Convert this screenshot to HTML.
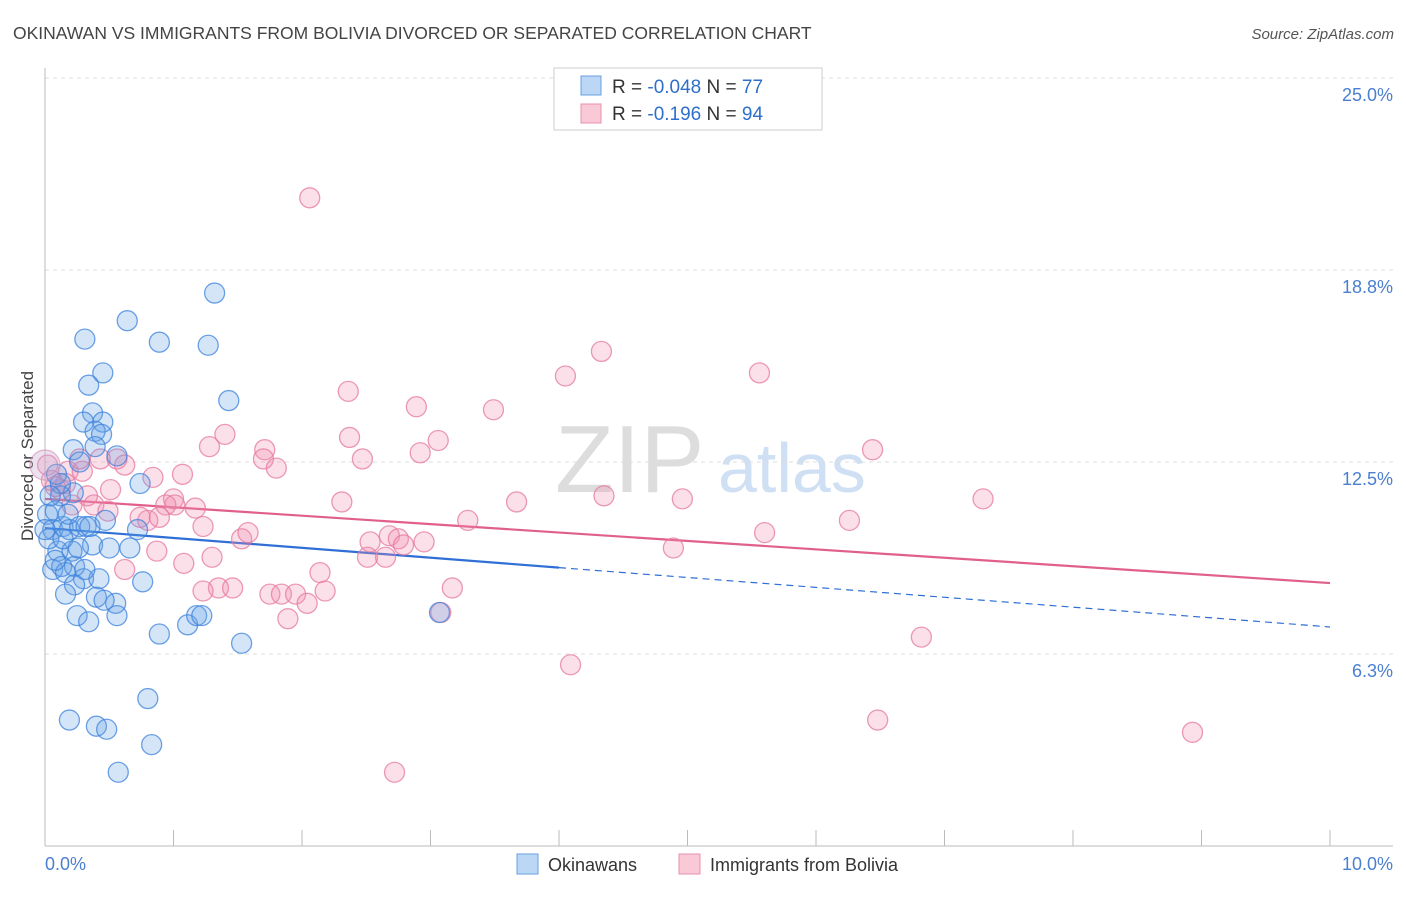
<!DOCTYPE html>
<html><head><meta charset="utf-8"><style>
body{margin:0;background:#fff;font-family:"Liberation Sans",sans-serif;}
svg text{font-family:"Liberation Sans",sans-serif;}
</style></head><body>
<svg id="chart" width="1406" height="892" xmlns="http://www.w3.org/2000/svg">
<text x="13" y="39" font-size="17.5" fill="#444">OKINAWAN VS IMMIGRANTS FROM BOLIVIA DIVORCED OR SEPARATED CORRELATION CHART</text>
<text x="1394" y="39" font-size="15" fill="#555" font-style="italic" text-anchor="end">Source: ZipAtlas.com</text>
<text transform="translate(33,456) rotate(-90)" font-size="17" fill="#444" text-anchor="middle">Divorced or Separated</text>
<g>
<text x="555" y="492" font-size="96" fill="#ddd" font-family="Liberation Serif, serif">ZIP</text>
<text x="718" y="492" font-size="70" fill="#cfe0f4">atlas</text>
</g>
<g id="grid"></g>
<g id="axes"></g>
<g id="trends"></g>
<g id="points"></g>
<g>
<rect x="554" y="68" width="268" height="62" fill="#fff" stroke="#ccc"/>
<rect x="581" y="76" width="20" height="19" fill="#bcd6f5" stroke="#6aa0e0"/>
<rect x="581" y="104" width="20" height="19" fill="#f9c9d8" stroke="#e890ad"/>
<text x="612" y="93" font-size="19" fill="#333">R = <tspan fill="#2f6fcc">-0.048</tspan>    N = <tspan fill="#2f6fcc">77</tspan></text>
<text x="612" y="120" font-size="19" fill="#333">R =   <tspan fill="#2f6fcc">-0.196</tspan>    N = <tspan fill="#2f6fcc">94</tspan></text>
</g>
<g>
<rect x="517" y="854" width="21" height="20" fill="#bcd6f5" stroke="#6aa0e0"/>
<text x="548" y="871" font-size="18" fill="#333">Okinawans</text>
<rect x="679" y="854" width="21" height="20" fill="#f9c9d8" stroke="#e890ad"/>
<text x="710" y="871" font-size="18" fill="#333">Immigrants from Bolivia</text>
</g>
</svg>
<script>
const blueX=[.31,.64,.89,1.27,1.32,.45,.34,1.43,.37,.30,.45,.39,.44,.22,.39,.56,.27,.09,.22,.12,.74,.12,.02,.06,.14,.19,.27,.32,.47,.72,.10,.21,.37,.50,.06,.13,.23,.30,.16,.42,.76,.23,.40,.55,.25,.34,.56,.89,1.11,1.18,1.22,1.53,.80,.19,.40,.48,.83,.57,3.07,.03,.08,0,.14,.31,.35,.66,.08,.04,.18,.26,.16,.46];
const blueY=[16.5,17.1,16.4,16.3,18.0,15.4,15.0,14.5,14.1,13.8,13.8,13.5,13.4,12.9,13.0,12.7,12.5,12.1,11.5,11.4,11.8,11.8,10.8,10.3,10.4,10.3,10.4,10.4,10.6,10.3,9.6,9.6,9.8,9.7,9.0,9.1,9.1,8.7,8.9,8.7,8.6,8.5,8.1,7.9,7.5,7.3,7.5,6.9,7.2,7.5,7.5,6.6,4.8,4.1,3.9,3.8,3.3,2.4,7.6,10.0,9.3,10.3,10.0,9.0,10.4,9.7,10.9,11.4,10.8,9.7,8.2,8.0];
const pinkX=[2.06,4.33,4.05,5.56,2.36,2.89,3.49,2.37,3.06,1.40,1.28,1.71,2.92,2.47,6.44,1.70,1.80,.56,.62,.84,1.07,.18,.29,.12,.33,.51,.38,1.0,1.01,.94,1.17,2.31,3.67,4.35,4.96,7.30,6.26,3.29,.80,.74,1.23,1.53,1.58,2.53,2.68,2.75,2.95,2.79,5.60,4.89,.87,1.30,1.08,2.51,2.65,.62,2.14,1.35,1.46,1.23,1.75,1.84,1.95,2.18,2.04,1.89,3.08,3.17,6.82,4.09,6.48,2.72,8.93,.02,.05,.16,.21,.27,.43,.49,.08,.89];
const pinkY=[21.1,16.1,15.3,15.4,14.8,14.3,14.2,13.3,13.2,13.4,13.0,12.9,12.8,12.6,12.9,12.6,12.3,12.6,12.4,12.0,12.1,12.2,12.2,11.6,11.4,11.6,11.1,11.3,11.1,11.1,11.0,11.2,11.2,11.4,11.3,11.3,10.6,10.6,10.6,10.7,10.4,10.0,10.2,9.9,10.1,10.0,9.9,9.8,10.2,9.7,9.6,9.4,9.2,9.4,9.4,9.0,8.9,8.4,8.4,8.3,8.2,8.2,8.2,8.3,7.9,7.4,7.6,8.4,6.8,5.9,4.1,2.4,3.7,12.4,11.9,11.8,11.1,12.6,12.6,10.9,11.7,10.7];
const blueTrend=[10.35,7.13];
const pinkTrend=[11.3,8.56];
const yTicks=[6.25,12.5,18.75,25];
const yTickLabels=["6.3%","12.5%","18.8%","25.0%"];
const xTicks=[0,1,2,3,4,5,6,7,8,9,10];
const NS="http://www.w3.org/2000/svg";
const X0=45,X1=1330,Y0=846,PY=30.72;
function sx(v){return X0+(X1-X0)*v/10;}
function sy(v){return Y0-v*PY;}
function mk(tag,attrs,parent){const e=document.createElementNS(NS,tag);for(const k in attrs)e.setAttribute(k,attrs[k]);document.getElementById(parent).appendChild(e);return e;}
yTicks.forEach((t,i)=>{
 const l=mk('line',{x1:45,x2:1393,y1:sy(t),y2:sy(t),stroke:'#ddd','stroke-dasharray':'4,4'},'grid');
 
 
 const tx=mk('text',{x:1393,y:sy(t)+23,'font-size':18,fill:'#4a7fd0','text-anchor':'end'},'grid');
 tx.textContent=yTickLabels[i];
 
 
});
const ax=mk('line',{x1:45,x2:45,y1:68,y2:846,stroke:'#bbb'},'axes');


const bx=mk('line',{x1:45,x2:1393,y1:846,y2:846,stroke:'#bbb'},'axes');


xTicks.forEach(t=>{
 const l=mk('line',{x1:sx(t),x2:sx(t),y1:830,y2:846,stroke:'#bbb'},'axes');
 
 
});
const xl0=mk('text',{x:45,y:870,'font-size':18,fill:'#4a7fd0'},'axes');xl0.textContent='0.0%';


const xl1=mk('text',{x:1393,y:870,'font-size':18,fill:'#4a7fd0','text-anchor':'end'},'axes');xl1.textContent='10.0%';


function pt(x,y,fill,stroke,r){
 const c=mk('circle',{cx:sx(x),cy:sy(y),r:r,fill:fill,stroke:stroke,'stroke-width':1.3},'points');
 return c;
}
pinkX.forEach((x,i)=>{const c=pt(x,pinkY[i],'rgba(240,140,175,0.28)','rgba(230,120,160,0.75)',10);
 
 });
blueX.forEach((x,i)=>{const c=pt(x,blueY[i],'rgba(100,160,230,0.28)','rgba(60,130,220,0.75)',10);
 
 });
const big=pt(0,12.4,'rgba(200,170,210,0.35)','rgba(210,140,180,0.6)',15);


function tv(tr,x){return tr[0]+(tr[1]-tr[0])*x/10;}
const pl=mk('line',{x1:sx(0),y1:sy(tv(pinkTrend,0)),x2:sx(10),y2:sy(tv(pinkTrend,10)),stroke:'#e0608a','stroke-width':2.2},'trends');


const bl=mk('line',{x1:sx(0),y1:sy(tv(blueTrend,0)),x2:sx(4),y2:sy(tv(blueTrend,4)),stroke:'#2f6fd6','stroke-width':2.2},'trends');


const bd=mk('line',{x1:sx(4),y1:sy(tv(blueTrend,4)),x2:sx(10),y2:sy(tv(blueTrend,10)),stroke:'#2f6fd6','stroke-width':1.2,'stroke-dasharray':'7,5'},'trends');


</script>
</body></html>
